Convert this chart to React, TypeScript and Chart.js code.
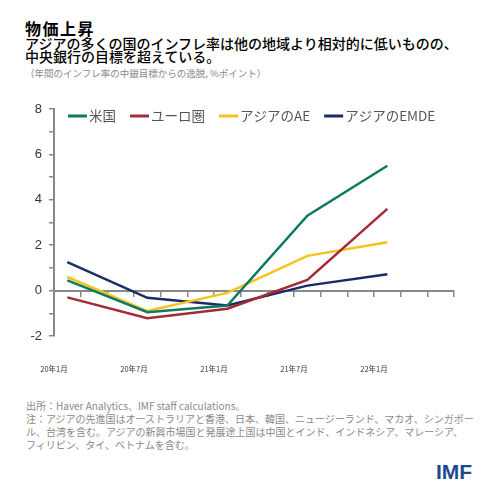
import React, { useEffect, useRef } from 'react';
import { Chart, registerables } from 'chart.js';

Chart.register(...registerables);

// months since January 2020 for each observation
const obsMonths = [1, 7, 13, 19, 25];
const usValues = [0.45, -0.95, -0.66, 3.3, 5.5];
const euroValues = [-0.3, -1.22, -0.8, 0.47, 3.6];
const asiaAEValues = [0.6, -0.9, -0.1, 1.53, 2.13];
const asiaEMDEValues = [1.25, -0.32, -0.66, 0.22, 0.72];
const seriesNames = ['米国', 'ユーロ圏', 'アジアのAE', 'アジアのEMDE'];
const seriesColors = ['#0f7a62', '#a62a33', '#f6c31c', '#1b2a68'];
const xTickMonths = [0, 6, 12, 18, 24];
const xTickLabels = ['20年1月', '20年7月', '21年1月', '21年7月', '22年1月'];
const yMin = -2;
const yMax = 8;

const FONT = '"Noto Sans CJK JP", "Liberation Sans", sans-serif';
const LATIN = '"Liberation Sans", Arial, sans-serif';

const inlineLegend = {
  id: 'inlineLegend',
  afterDraw(chart: any) {
    const { ctx, chartArea } = chart;
    ctx.save();
    ctx.font = `13.5px ${FONT}`;
    ctx.textBaseline = 'middle';
    let x = chartArea.left + 14;
    const y = chartArea.top + 7;
    chart.data.datasets.forEach((ds: any) => {
      ctx.strokeStyle = ds.borderColor;
      ctx.lineWidth = 3;
      ctx.beginPath();
      ctx.moveTo(x, y);
      ctx.lineTo(x + 19, y);
      ctx.stroke();
      x += 21;
      ctx.fillStyle = '#555';
      ctx.fillText(ds.label, x, y);
      x += ctx.measureText(ds.label).width + 14;
    });
    ctx.restore();
  },
};

export default function App() {
  const canvasRef = useRef<HTMLCanvasElement | null>(null);

  useEffect(() => {
    const allValues = [usValues, euroValues, asiaAEValues, asiaEMDEValues];
    const chart = new Chart(canvasRef.current as HTMLCanvasElement, {
      type: 'line',
      data: {
        datasets: allValues.map((vals, i) => ({
          label: seriesNames[i],
          data: obsMonths.map((m, j) => ({ x: m, y: vals[j] })),
          borderColor: seriesColors[i],
          backgroundColor: seriesColors[i],
          borderWidth: 2.5,
          pointRadius: 0,
          tension: 0,
          xAxisID: 'x',
          yAxisID: 'y',
        })),
      },
      options: {
        animation: false,
        responsive: false,
        maintainAspectRatio: false,
        layout: { padding: { left: 0, right: 46, top: 19, bottom: 0 } },
        plugins: { legend: { display: false }, tooltip: { enabled: false } },
        scales: {
          x: {
            type: 'linear',
            min: 0,
            max: 30,
            position: 'bottom',
            afterFit: (s: any) => { s.height = 54; },
            grid: { display: false, drawTicks: false },
            border: { display: false },
            ticks: {
              stepSize: 6,
              autoSkip: false,
              maxRotation: 0,
              padding: 29,
              color: '#333',
              font: { size: 7.5, family: FONT },
              callback: (v: any) => {
                const i = xTickMonths.indexOf(Number(v));
                return i >= 0 ? xTickLabels[i] : '';
              },
            },
          },
          x0: {
            type: 'linear',
            min: 0,
            max: 30,
            position: { y: 0 },
            grid: { drawOnChartArea: false, drawTicks: true, tickLength: 5, color: '#888', lineWidth: 1.5 },
            border: { color: '#888', width: 2 },
            ticks: { display: false, stepSize: 2, autoSkip: false },
          },
          y: {
            type: 'linear',
            min: yMin,
            max: yMax,
            position: 'left',
            afterFit: (s: any) => { s.width = 54; },
            grid: { drawOnChartArea: false, tickLength: 5, color: '#888', lineWidth: 1.5 },
            border: { color: '#888', width: 2 },
            ticks: {
              stepSize: 1,
              padding: 7,
              color: '#333',
              font: { size: 13, family: LATIN },
              callback: (v: any) => (Number(v) % 2 === 0 ? String(v) : ''),
            },
          },
        },
      },
      plugins: [inlineLegend],
    } as any);
    return () => chart.destroy();
  }, []);

  const grey = '#8a8a8a';
  return (
    <div style={{ position: 'fixed', left: 0, top: 0, width: 500, height: 500, background: '#fff', fontFamily: FONT, overflow: 'hidden' }}>
      <div style={{ position: 'absolute', left: 25, top: 20, fontSize: 16, fontWeight: 'bold', lineHeight: '17px', letterSpacing: 1.5, color: '#000' }}>物価上昇</div>
      <div style={{ position: 'absolute', left: 25, top: 37, fontSize: 14, fontWeight: 500, lineHeight: '13px', color: '#000' }}>
        <div>アジアの多くの国のインフレ率は他の地域より相対的に低いものの、</div>
        <div>中央銀行の目標を超えている。</div>
      </div>
      <div style={{ position: 'absolute', left: 25, top: 67, fontSize: 9.5, lineHeight: '12px', color: grey }}>（年間のインフレ率の中銀目標からの逸脱, %ポイント）</div>
      <canvas ref={canvasRef} width={500} height={300} style={{ position: 'absolute', left: 0, top: 90, width: 500, height: 300 }} />
      <div style={{ position: 'absolute', left: 26, top: 399, fontSize: 10, lineHeight: '13px', color: grey }}>
        <div>出所：Haver Analytics、IMF staff calculations。</div>
        <div>注：アジアの先進国はオーストラリアと香港、日本、韓国、ニュージーランド、マカオ、シンガポー</div>
        <div>ル、台湾を含む。アジアの新興市場国と発展途上国は中国とインド、インドネシア、マレーシア、</div>
        <div>フィリピン、タイ、ベトナムを含む。</div>
      </div>
      <div style={{ position: 'absolute', left: 436, top: 461, fontSize: 21, fontWeight: 'bold', lineHeight: '21px', color: '#1d4a8c', fontFamily: LATIN }}>IMF</div>
    </div>
  );
}
